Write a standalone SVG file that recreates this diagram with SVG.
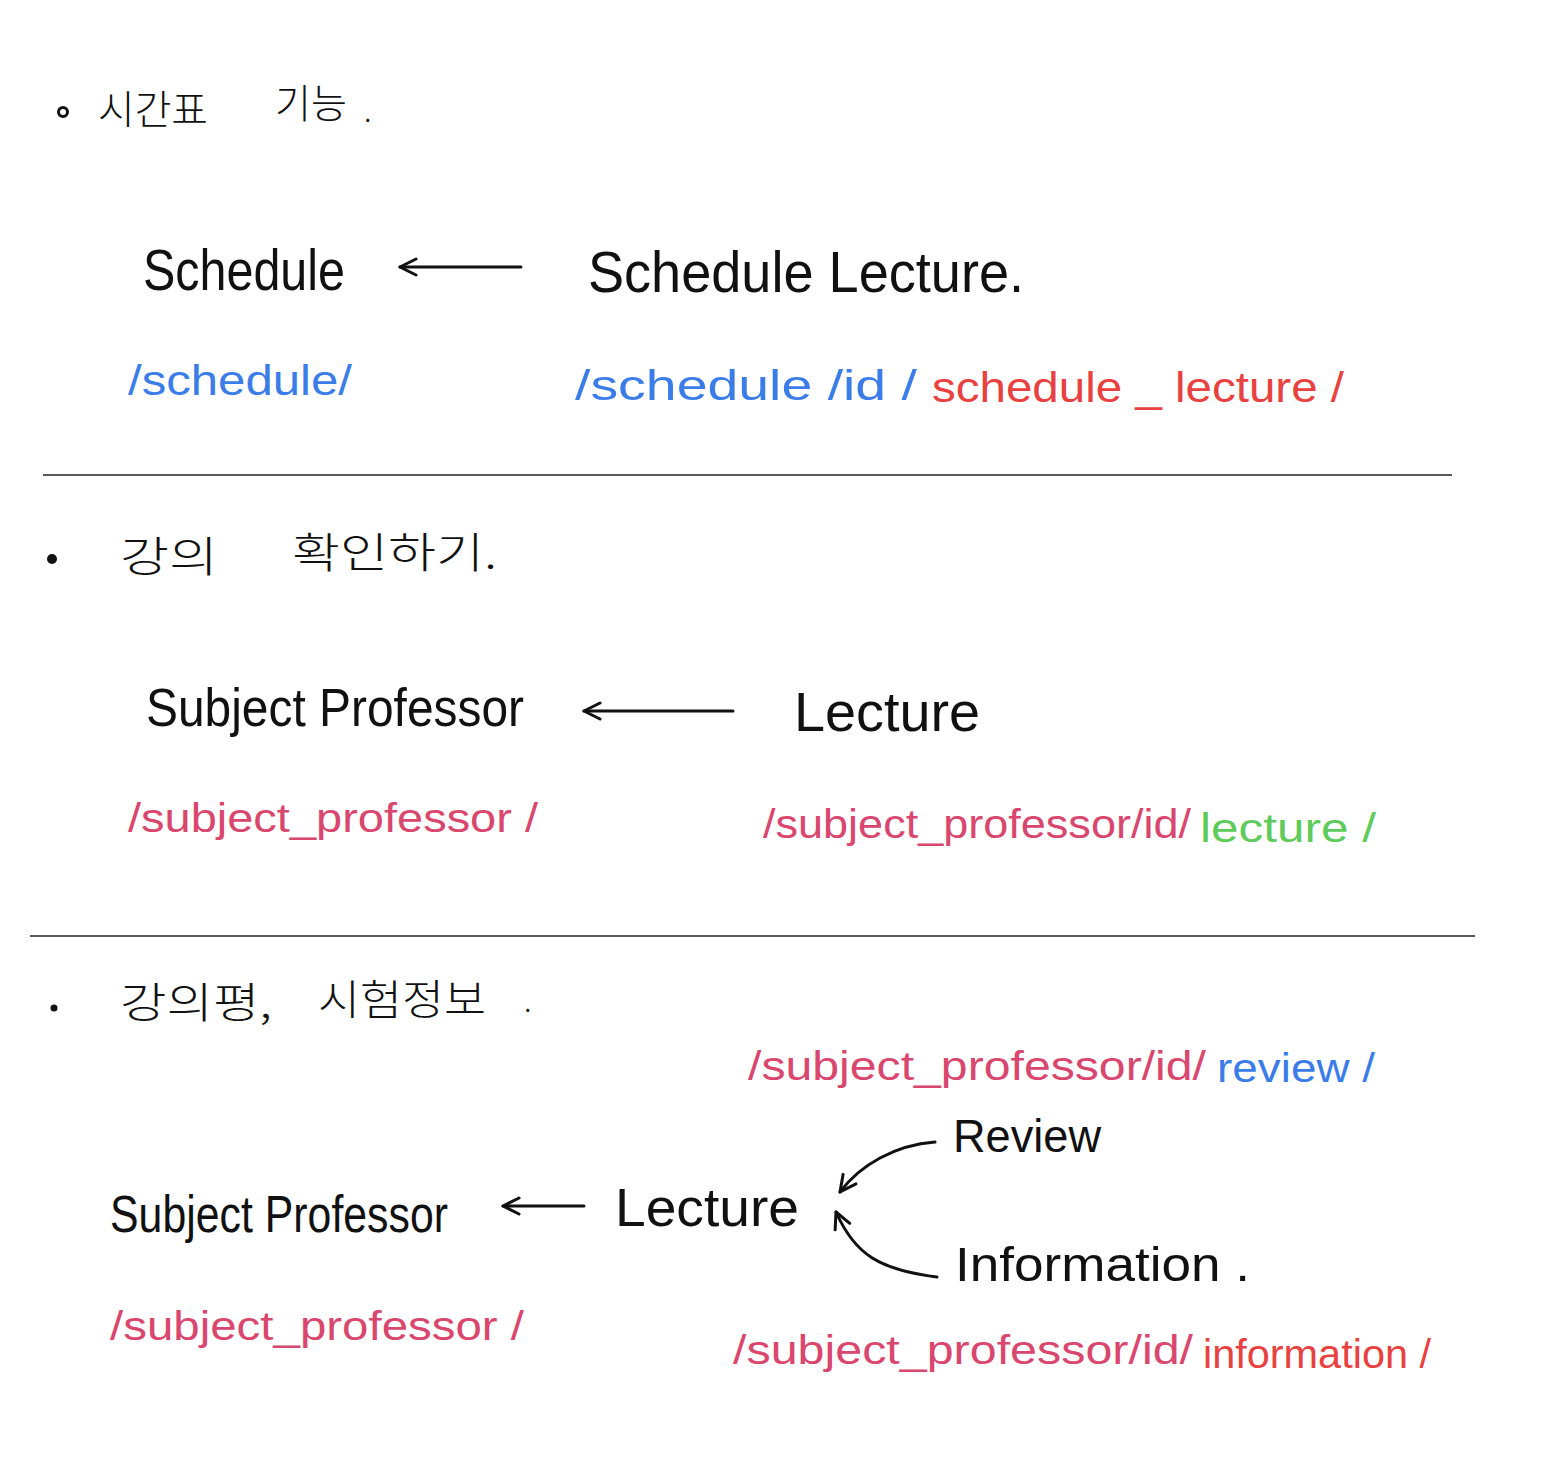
<svg xmlns="http://www.w3.org/2000/svg" width="1559" height="1461" viewBox="0 0 1559 1461">
<style>
.t{font-family:"Liberation Sans","Noto Sans CJK KR",sans-serif;fill:#111}
.k{font-family:"Noto Sans CJK KR",sans-serif;fill:#111;font-weight:300}
.b{fill:#3b7de8}.r{fill:#e8413f}.p{fill:#d9466e}.g{fill:#5ecb5a}
.rule{stroke:#222;stroke-width:1.6}
.ar{stroke:#111;stroke-width:3;fill:none;stroke-linecap:round;stroke-linejoin:round}
</style>
<defs>
<marker id="h" viewBox="0 0 20 20" refX="18" refY="10" markerWidth="20" markerHeight="20" markerUnits="userSpaceOnUse" orient="auto">
<path d="M2 2 L18 10 L2 18" fill="none" stroke="#111" stroke-width="3" stroke-linecap="round" stroke-linejoin="round"/>
</marker>
</defs>
<rect width="1559" height="1461" fill="#fff"/>

<g id="section1">
<circle cx="63" cy="112" r="4.5" fill="none" stroke="#111" stroke-width="3"/>
<text class="k" x="98" y="124" font-size="40" textLength="110" lengthAdjust="spacingAndGlyphs">시간표</text>
<text class="k" x="275" y="118" font-size="40" textLength="72" lengthAdjust="spacingAndGlyphs">기능</text>
<text class="k" x="364" y="122" font-size="30">.</text>
</g>
<g id="schedule">
<text class="t" x="143" y="290" font-size="58" textLength="202" lengthAdjust="spacingAndGlyphs">Schedule</text>
<text class="t b" x="128" y="395" font-size="42" textLength="224" lengthAdjust="spacingAndGlyphs">/schedule/</text>
</g>
<g id="schedule-lecture">
<text class="t" x="588" y="292" font-size="58" textLength="436" lengthAdjust="spacingAndGlyphs">Schedule Lecture.</text>
<text class="t b" x="575" y="400" font-size="42" textLength="342" lengthAdjust="spacingAndGlyphs">/schedule /id / </text>
<text class="t r" x="932" y="402" font-size="42" textLength="412" lengthAdjust="spacingAndGlyphs">schedule _ lecture /</text>
</g>
<line class="rule" x1="43" y1="475" x2="1452" y2="475"/>

<g id="section2">
<circle cx="52" cy="559" r="5" fill="#111"/>
<text class="k" x="120" y="572" font-size="42" textLength="98" lengthAdjust="spacingAndGlyphs">강의</text>
<text class="k" x="292" y="568" font-size="42" textLength="205" lengthAdjust="spacingAndGlyphs">확인하기.</text>
</g>
<g id="subject-professor-1">
<text class="t" x="146" y="726" font-size="54" textLength="378" lengthAdjust="spacingAndGlyphs">Subject Professor</text>
<text class="t p" x="128" y="832" font-size="40" textLength="410" lengthAdjust="spacingAndGlyphs">/subject_professor /</text>
</g>
<g id="lecture-1">
<text class="t" x="794" y="731" font-size="56" textLength="186" lengthAdjust="spacingAndGlyphs">Lecture</text>
<text class="t p" x="763" y="838" font-size="40" textLength="428" lengthAdjust="spacingAndGlyphs">/subject_professor/id/</text>
<text class="t g" x="1200" y="842" font-size="40" textLength="176" lengthAdjust="spacingAndGlyphs">lecture /</text>
</g>
<line class="rule" x1="30" y1="936" x2="1475" y2="936"/>

<g id="section3">
<circle cx="54" cy="1008" r="3.5" fill="#111"/>
<text class="k" x="120" y="1018" font-size="42" textLength="152" lengthAdjust="spacingAndGlyphs">강의평,</text>
<text class="k" x="318" y="1015" font-size="42" textLength="168" lengthAdjust="spacingAndGlyphs">시험정보</text>
<text class="k" x="524" y="1012" font-size="30">.</text>
</g>
<g id="subject-professor-2">
<text class="t" x="110" y="1232" font-size="52" textLength="338" lengthAdjust="spacingAndGlyphs">Subject Professor</text>
<text class="t p" x="110" y="1340" font-size="40" textLength="414" lengthAdjust="spacingAndGlyphs">/subject_professor /</text>
</g>
<g id="lecture-2">
<text class="t" x="615" y="1226" font-size="54" textLength="184" lengthAdjust="spacingAndGlyphs">Lecture</text>
</g>
<g id="review">
<text class="t p" x="748" y="1080" font-size="40" textLength="458" lengthAdjust="spacingAndGlyphs">/subject_professor/id/</text>
<text class="t b" x="1217" y="1082" font-size="40" textLength="158" lengthAdjust="spacingAndGlyphs">review /</text>
<text class="t" x="953" y="1152" font-size="46" textLength="148" lengthAdjust="spacingAndGlyphs">Review</text>
</g>
<g id="information">
<text class="t" x="955" y="1281" font-size="48" textLength="295" lengthAdjust="spacingAndGlyphs">Information .</text>
<text class="t p" x="733" y="1364" font-size="40" textLength="460" lengthAdjust="spacingAndGlyphs">/subject_professor/id/</text>
<text class="t r" x="1203" y="1368" font-size="40" textLength="228" lengthAdjust="spacingAndGlyphs">information /</text>
</g>

<g id="connectors">
<line class="ar" x1="521" y1="267" x2="400" y2="267" marker-end="url(#h)"/>
<line class="ar" x1="733" y1="711" x2="584" y2="711" marker-end="url(#h)"/>
<line class="ar" x1="584" y1="1206" x2="503" y2="1206" marker-end="url(#h)"/>
<path class="ar" d="M935 1142 C895 1145 860 1165 840 1192" marker-end="url(#h)"/>
<path class="ar" d="M937 1277 C880 1270 855 1255 836 1212" marker-end="url(#h)"/>
</g>
</svg>
